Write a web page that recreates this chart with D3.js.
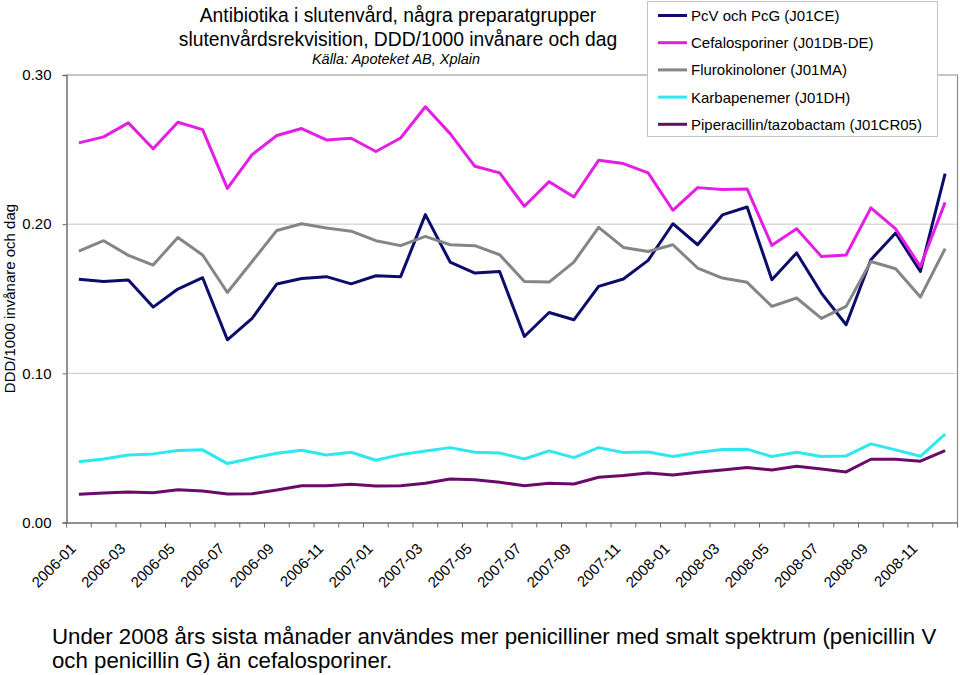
<!DOCTYPE html>
<html><head><meta charset="utf-8">
<script src="https://cdn.jsdelivr.net/npm/d3@7"></script>
<style>body{margin:0;background:#fff;} svg{display:block;font-family:"Liberation Sans",Arial,sans-serif;}</style>
</head><body>
<svg id="c" width="960" height="675"></svg>
<script>
const months = ["2006-01","2006-02","2006-03","2006-04","2006-05","2006-06","2006-07","2006-08","2006-09","2006-10","2006-11","2006-12",
"2007-01","2007-02","2007-03","2007-04","2007-05","2007-06","2007-07","2007-08","2007-09","2007-10","2007-11","2007-12",
"2008-01","2008-02","2008-03","2008-04","2008-05","2008-06","2008-07","2008-08","2008-09","2008-10","2008-11","2008-12"];
const seriesNames = ["PcV och PcG (J01CE)","Cefalosporiner (J01DB-DE)","Flurokinoloner (J01MA)","Karbapenemer (J01DH)","Piperacillin/tazobactam (J01CR05)"];
const pcv = [0.163,0.1616,0.1626,0.1444,0.1565,0.1641,0.1225,0.1368,0.1599,0.1636,0.1648,0.1600,
0.1654,0.1648,0.2064,0.1746,0.1672,0.1683,0.1247,0.1408,0.1359,0.1583,0.1632,0.1757,
0.2003,0.1862,0.2062,0.2115,0.1628,0.1807,0.1538,0.1326,0.1762,0.1941,0.1683,0.2339];
const cefa = [0.2545,0.2585,0.2679,0.2505,0.2683,0.2634,0.2240,0.2466,0.2594,0.2641,0.2565,0.2576,
0.2487,0.2578,0.2787,0.2607,0.2388,0.2344,0.2120,0.2285,0.2182,0.2428,0.2406,0.2344,
0.2093,0.2245,0.2232,0.2236,0.1858,0.1970,0.1784,0.1793,0.2109,0.1968,0.1717,0.2146];
const fluro = [0.1820,0.1889,0.1791,0.1726,0.1911,0.1793,0.1542,0.1750,0.1958,0.2003,0.1974,0.1953,
0.1889,0.1856,0.1918,0.1862,0.1856,0.1795,0.1616,0.1612,0.1746,0.1979,0.1844,0.1817,
0.1862,0.1706,0.1639,0.1610,0.1449,0.1505,0.1368,0.1449,0.1750,0.1701,0.1511,0.1836];
const karba = [0.0408,0.0426,0.0453,0.0460,0.0482,0.0487,0.0395,0.0431,0.0464,0.0485,0.0453,0.0471,
0.0417,0.0455,0.0480,0.0502,0.0471,0.0466,0.0426,0.0480,0.0435,0.0502,0.0469,0.0473,
0.0442,0.0469,0.0489,0.0491,0.0442,0.0471,0.0442,0.0446,0.0527,0.0487,0.0444,0.0592];
const pip = [0.0189,0.0198,0.0205,0.0200,0.0220,0.0211,0.0191,0.0193,0.0218,0.0247,0.0246,0.0256,
0.0245,0.0247,0.0263,0.0292,0.0287,0.0270,0.0247,0.0263,0.0258,0.0303,0.0315,0.0332,
0.0319,0.0337,0.0352,0.0368,0.0352,0.0377,0.0359,0.0339,0.0424,0.0424,0.0411,0.0482];
const yTicks = [0, 0.10, 0.20, 0.30];
const colors = ["#0c0c6a","#e41ee4","#858585","#2ee8f0","#6a0a6a"];
const allSeries = [pcv, cefa, fluro, karba, pip];

const svg = d3.select("#c");
const L = 66.5, R = 957.5, T = 75, B = 522.5;
const x = d3.scaleBand().domain(months).range([L, R]);
const y = d3.scaleLinear().domain([0, 0.30]).range([B, T]);

// gridlines
svg.append("g").selectAll("line").data(yTicks.filter(d => d > 0 && d < 0.3)).join("line")
  .attr("x1", L).attr("x2", R).attr("y1", d => y(d)).attr("y2", d => y(d))
  .attr("stroke", "#c8c8c8").attr("stroke-width", 1);
// plot border top/right
svg.append("path").attr("d", `M${L},${T}H${R}V${B}`).attr("fill","none").attr("stroke","#8c8c8c").attr("stroke-width",1.2);

// y axis
const yAxis = svg.append("g").attr("transform", `translate(${L},0)`)
  .call(d3.axisLeft(y).tickValues(yTicks).tickFormat(d3.format(".2f")).tickSize(4).tickPadding(11));
yAxis.select(".domain").attr("stroke", "#6e6e6e").attr("stroke-width", 1.5);
yAxis.selectAll(".tick line").attr("stroke", "#6e6e6e");
yAxis.selectAll("text").attr("font-size", 15).attr("fill", "#000").attr("font-family", "Liberation Sans, Arial, sans-serif");

// x axis
const xAxis = svg.append("g").attr("transform", `translate(0,${B})`)
  .call(d3.axisBottom(x).tickSize(0).tickFormat((d, i) => i % 2 === 0 ? d : ""));
xAxis.select(".domain").attr("stroke", "#6e6e6e").attr("stroke-width", 1.5);
xAxis.selectAll(".tick text").attr("font-size", 15).attr("fill", "#000")
  .attr("font-family", "Liberation Sans, Arial, sans-serif")
  .attr("text-anchor", "end").attr("dy", null).attr("y", 0)
  .attr("transform", "translate(-2,27) rotate(-45)");
// boundary tick marks
svg.append("g").selectAll("line").data(months.concat(["end"])).join("line")
  .attr("x1", (d, i) => L + i * x.bandwidth()).attr("x2", (d, i) => L + i * x.bandwidth())
  .attr("y1", B).attr("y2", B + 5).attr("stroke", "#6e6e6e").attr("stroke-width", 1);

// lines
const line = d3.line().x((d, i) => x(months[i]) + x.bandwidth() / 2).y(d => y(d));
allSeries.forEach((s, k) => {
  svg.append("path").datum(s).attr("d", line).attr("fill", "none")
    .attr("stroke", colors[k]).attr("stroke-width", 3).attr("stroke-linejoin", "round");
});

// legend
const lg = svg.append("g");
lg.append("rect").attr("x", 647.5).attr("y", 1.5).attr("width", 290).attr("height", 135)
  .attr("fill", "#fff").attr("stroke", "#c4c4c4").attr("stroke-width", 1);
seriesNames.forEach((n, k) => {
  const yy = 15.5 + k * 27.2;
  lg.append("line").attr("x1", 658).attr("x2", 687).attr("y1", yy).attr("y2", yy)
    .attr("stroke", colors[k]).attr("stroke-width", 3);
  lg.append("text").attr("x", 691).attr("y", yy + 5.5).attr("font-size", 15).text(n);
});

// titles
svg.append("text").attr("x", 398).attr("y", 21.5).attr("text-anchor", "middle").attr("font-size", 19.3)
  .text("Antibiotika i slutenvård, några preparatgrupper");
svg.append("text").attr("x", 398).attr("y", 45.5).attr("text-anchor", "middle").attr("font-size", 19.3)
  .text("slutenvårdsrekvisition, DDD/1000 invånare och dag");
svg.append("text").attr("x", 396).attr("y", 64).attr("text-anchor", "middle").attr("font-size", 14.5)
  .attr("font-style", "italic").text("Källa: Apoteket AB, Xplain");

// y axis title
svg.append("text").attr("transform", "translate(15,298.5) rotate(-90)").attr("text-anchor", "middle")
  .attr("font-size", 15).text("DDD/1000 invånare och dag");

// bottom note
svg.append("text").attr("x", 52).attr("y", 644).attr("font-size", 22.25)
  .text("Under 2008 års sista månader användes mer penicilliner med smalt spektrum (penicillin V");
svg.append("text").attr("x", 52).attr("y", 668).attr("font-size", 22.25)
  .text("och penicillin G) än cefalosporiner.");
</script>
</body></html>
